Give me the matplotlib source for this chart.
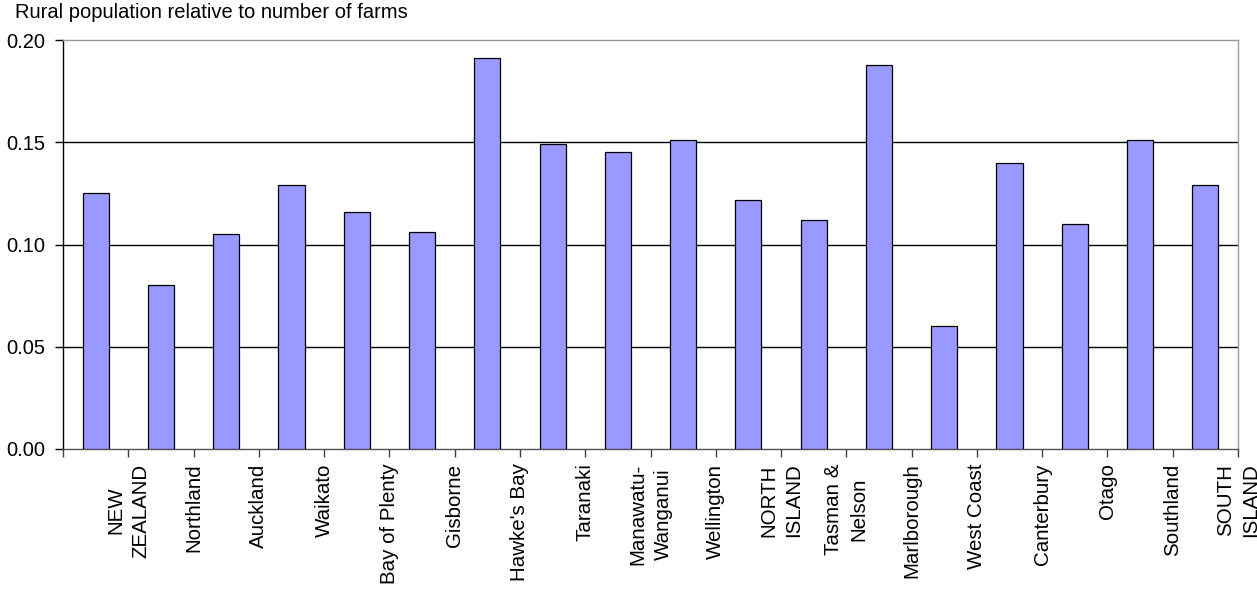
import numpy as np
import matplotlib
matplotlib.use("Agg")
import matplotlib.pyplot as plt

plt.rcParams['font.family'] = ['Liberation Sans', 'DejaVu Sans']

regions = ["NEW\nZEALAND", "Northland", "Auckland", "Waikato", "Bay of Plenty",
           "Gisborne", "Hawke's Bay", "Taranaki", "Manawatu-\nWanganui",
           "Wellington", "NORTH\nISLAND", "Tasman &\nNelson", "Marlborough",
           "West Coast", "Canterbury", "Otago", "Southland", "SOUTH\nISLAND"]
ratio = [0.125, 0.080, 0.105, 0.129, 0.116, 0.106, 0.191, 0.149, 0.145,
         0.151, 0.122, 0.112, 0.188, 0.060, 0.140, 0.110, 0.151, 0.129]
y_ticks = [0.00, 0.05, 0.10, 0.15, 0.20]

fig = plt.figure(figsize=(12.57, 5.90), dpi=100)
ax = fig.add_axes([63 / 1257, 1 - 449 / 590, (1238 - 63) / 1257, (449 - 40) / 590])

x = np.arange(len(regions))
ax.bar(x, ratio, width=0.4, color='#9999FF', edgecolor='black', linewidth=0.9, zorder=3)

ax.set_xlim(-0.5, len(regions) - 0.5)
ax.set_ylim(0, 0.20)

# category labels sit on the slot boundaries
ax.set_xticks(np.arange(-0.5, len(regions)))
ax.set_xticklabels([''] + regions, rotation=90, fontsize=14.8,
                   multialignment='center', linespacing=1.4)
ax.tick_params(axis='x', length=6, width=1, color='#404040', pad=4.5)

ax.set_yticks(y_ticks)
ax.set_yticklabels([f"{v:.2f}" for v in y_ticks], fontsize=14.5)
ax.tick_params(axis='y', length=6, width=1, color='black', pad=7)

for v in y_ticks[1:-1]:
    ax.axhline(v, color='black', linewidth=1, zorder=1)

ax.spines['left'].set_color('black')
ax.spines['bottom'].set_color('#505050')
ax.spines['top'].set_color('#999999')
ax.spines['right'].set_color('#999999')
for s in ax.spines.values():
    s.set_linewidth(1)

fig.text(15 / 1257, 1 - 17.5 / 590, "Rural population relative to number of farms",
         fontsize=14.5, ha='left', va='baseline')

fig.savefig("out.png", dpi=100)
